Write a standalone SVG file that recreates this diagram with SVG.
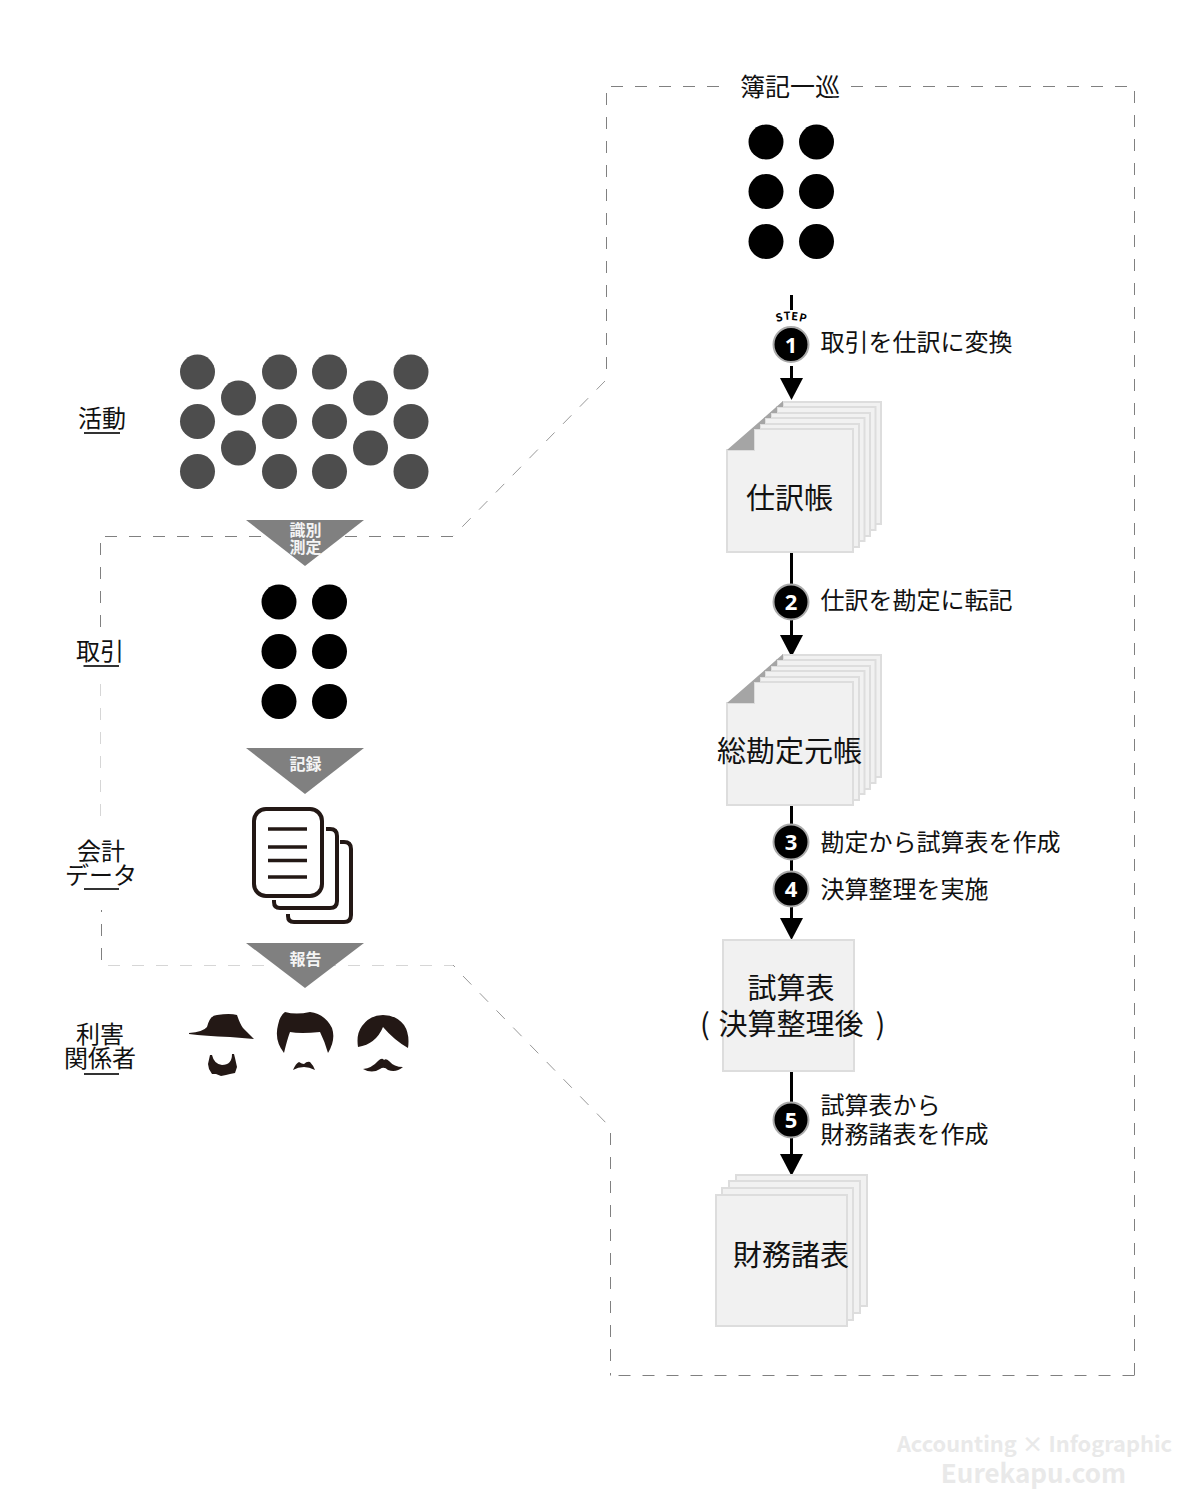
<svg xmlns="http://www.w3.org/2000/svg" width="1200" height="1495" viewBox="0 0 1200 1495">
<style>
text{font-family:"Noto Sans CJK JP","Noto Sans",sans-serif;fill:#111}
.l{font-size:24px;text-anchor:middle}
.s{font-size:24px}
.d{font-size:29px;text-anchor:middle}
.t{font-size:16px;font-weight:700;fill:#f4f4f4;text-anchor:middle}
.n{font-size:22px;font-weight:700;fill:#fff;text-anchor:middle;font-family:"Open Sans","Noto Sans",sans-serif}
.w{font-family:"Noto Sans CJK JP","Noto Sans",sans-serif;font-weight:700;fill:#e9e9e9;text-anchor:end}
.u{stroke:#333;stroke-width:2;fill:none}
.a{fill:#4d4d4d}
.p{fill:#f1f1f1;stroke:#ddd;stroke-width:2}
.f{fill:#a5a5a5}
.c{stroke:#000;stroke-width:3;fill:none}
.b{fill:#000;stroke:#ababab;stroke-width:2}
.tr{fill:#808080}
.ds{fill:none;stroke:#808080;stroke-width:1;stroke-dasharray:12 12}
.dm{fill:none;stroke:#999;stroke-width:1;stroke-dasharray:12 12}
.dl{fill:none;stroke:#d6d6d6;stroke-width:1;stroke-dasharray:12 12}
</style>
<defs>
<g id="six" fill="#000"><circle cx="0" cy="0" r="17.500"/><circle cx="50.500" cy="0" r="17.500"/><circle cx="0" cy="49.500" r="17.500"/><circle cx="50.500" cy="49.500" r="17.500"/><circle cx="0" cy="99.500" r="17.500"/><circle cx="50.500" cy="99.500" r="17.500"/></g>
<path id="ar" d="M-11.500 0H11.500L0 22Z" fill="#000"/>
</defs>

<g id="boundary">
<path class="ds" d="M719 86.500H610"/>
<path class="ds" d="M606.500 93V370"/>
<path class="dm" d="M605 381L453.700 535.500"/>
<path class="ds" d="M453 536.500H105"/>
<path class="ds" d="M100.500 543V627"/>
<path class="dl" d="M100.500 684V816"/>
<path class="ds" d="M101.500 910V912M101.500 924V960"/>
<path class="dl" d="M108 965.500H453"/>
<path class="dm" d="M453 965L455 967M463 976L610 1127"/>
<path class="ds" d="M610.500 1133V1375.500"/>
<path class="ds" d="M1134.500 1375.500H610.500"/>
<path class="ds" d="M1134.500 91V1375"/>
<path class="ds" d="M851 86.500H1127"/>
</g>

<g id="connectors">
<path class="c" d="M791.500 295V310M791.500 366V380M791.500 552V586M791.500 618V636M791.500 806V826M791.500 858V874M791.500 906V920M791.500 1071V1104M791.500 1136V1156"/>
<use href="#ar" x="791.500" y="378"/>
<use href="#ar" x="791.500" y="635"/>
<use href="#ar" x="791.500" y="918"/>
<use href="#ar" x="791.500" y="1154"/>
</g>

<g id="title"><text x="740" y="96" font-size="25">簿記一巡</text><use href="#six" x="766" y="142"/></g>

<g id="activity-label"><text class="l" x="102" y="427">活動</text><path class="u" d="M84 433H120"/></g>
<g id="activity" class="a">
<circle cx="197.500" cy="372" r="17.500"/><circle cx="197.500" cy="421.500" r="17.500"/><circle cx="197.500" cy="471.500" r="17.500"/>
<circle cx="238.500" cy="398" r="17.500"/><circle cx="238.500" cy="448" r="17.500"/>
<circle cx="279.500" cy="372" r="17.500"/><circle cx="279.500" cy="421.500" r="17.500"/><circle cx="279.500" cy="471.500" r="17.500"/>
<circle cx="329.500" cy="372" r="17.500"/><circle cx="329.500" cy="421.500" r="17.500"/><circle cx="329.500" cy="471.500" r="17.500"/>
<circle cx="370.500" cy="398" r="17.500"/><circle cx="370.500" cy="448" r="17.500"/>
<circle cx="411" cy="372" r="17.500"/><circle cx="411" cy="421.500" r="17.500"/><circle cx="411" cy="471.500" r="17.500"/>
</g>

<g id="measure"><path class="tr" d="M246 520H364L305 566Z"/><text class="t"><tspan x="305.500" y="535.500">識別</tspan><tspan x="305.500" y="553">測定</tspan></text></g>
<g id="transaction-label"><text class="l" x="100" y="660">取引</text><path class="u" d="M83.500 666H119"/></g>
<use id="transactions" href="#six" x="279" y="602"/>
<g id="record"><path class="tr" d="M246 748H364L305 794Z"/><text class="t" x="305.500" y="770">記録</text></g>

<g id="data-label"><text class="l"><tspan x="101" y="860">会計</tspan><tspan x="101" y="884">データ</tspan></text><path class="u" d="M84 889H119"/></g>
<g id="documents" fill="none" stroke="#231815" stroke-width="4">
<path d="M326 829H330Q337 829 337 836V901Q337 908 330 908H280Q274 908 274 902V900"/>
<path d="M340 842H344Q351 842 351 849V915Q351 922 344 922H294Q288 922 288 916V914"/>
<rect x="254" y="809" width="68" height="87" rx="12" fill="#fff"/>
<path stroke-width="3.500" d="M268 829H307M268 847H307M268 860.500H307M268 877H307"/>
</g>

<g id="report"><path class="tr" d="M246 943H364L305 988Z"/><text class="t" x="305.500" y="965">報告</text></g>
<g id="stakeholder-label"><text class="l"><tspan x="100" y="1043">利害</tspan><tspan x="100" y="1067">関係者</tspan></text><path class="u" d="M84 1074H119"/></g>
<g id="stakeholders" fill="#231815">
<path d="M189 1033Q203 1032 207 1027Q210 1015 217 1015Q230 1013 237 1015Q240 1024 243 1028L254 1039L230 1037Q205 1036 189 1034Z"/>
<path d="M210 1055L212 1055Q214 1064 222 1065Q232 1065 232 1054L234 1054L235 1058L237 1067L235 1073L230 1074L226 1075L221 1076L216 1074L212 1074L209 1069L208 1064Z"/>
<path d="M285 1012Q296 1015 310 1012Q325 1014 332 1028Q336 1040 328 1053Q325 1042 320 1032Q300 1034 290 1032Q287 1040 284 1053Q274 1040 278 1025Q280 1015 285 1012Z"/>
<path d="M293 1070Q296 1063 299 1062Q302 1064 304 1064Q307 1061 310 1062Q313 1065 315 1070Q309 1067 304 1067Q298 1067 293 1070Z"/>
<path d="M358 1047Q356 1034 362 1026Q370 1015 383 1015Q396 1015 404 1025Q410 1034 408 1048Q394 1040 383 1027Q376 1044 358 1047Z"/>
<path d="M363 1069Q372 1068 378 1061Q382 1057 384 1060Q386 1058 389 1061Q394 1067 403 1067Q396 1073 388 1070Q384 1066 380 1069Q372 1074 363 1069Z"/>
</g>

<g id="step1"><text y="322 320 320 321" x="776.500 784 791 798.500" font-size="11" font-weight="700" style="fill:#000" rotate="-12 -4 4 12">STEP</text><circle class="b" cx="791" cy="344.500" r="17.500"/><text class="n" x="791" y="352.500">1</text><text class="s" x="820.500" y="350.500">取引を仕訳に変換</text></g>

<g id="journal">
<path class="p" d="M783 402H881V524H783Z"/><path class="p" d="M777 407H875.500V530H777Z"/><path class="p" d="M771 413H870V536H771Z"/><path class="p" d="M765 418H864.500V541H765Z"/><path class="p" d="M760 424H859V547H760Z"/>
<path class="p" d="M754 429H853V552H727V450H754Z"/>
<path class="f" d="M783 401L727 450H754V429H760V424H765V418H771V413H777V407H783Z"/>
<text class="d" x="789.500" y="508.500">仕訳帳</text>
</g>

<g id="step2"><circle class="b" cx="791" cy="602" r="17.500"/><text class="n" x="791" y="610">2</text><text class="s" x="820.500" y="608.500">仕訳を勘定に転記</text></g>

<g id="ledger">
<path class="p" d="M783 655H881V777H783Z"/><path class="p" d="M777 660H875.500V783H777Z"/><path class="p" d="M771 666H870V789H771Z"/><path class="p" d="M765 671H864.500V794H765Z"/><path class="p" d="M760 677H859V800H760Z"/>
<path class="p" d="M754 682H853V805H727V703H754Z"/>
<path class="f" d="M783 654L727 703H754V682H760V677H765V671H771V666H777V660H783Z"/>
<text class="d" x="789.500" y="761.500">総勘定元帳</text>
</g>

<g id="step3"><circle class="b" cx="791" cy="842" r="17.500"/><text class="n" x="791" y="850">3</text><text class="s" x="820.500" y="850.500">勘定から試算表を作成</text></g>
<g id="step4"><circle class="b" cx="791" cy="889" r="17.500"/><text class="n" x="791" y="897">4</text><text class="s" x="820.500" y="897.500">決算整理を実施</text></g>

<g id="trial-balance"><rect class="p" x="723" y="940" width="131" height="131"/><text class="d" x="791" y="998.500">試算表</text><text font-size="29" y="1034.500" x="700">( <tspan x="718.500">決算整理後</tspan><tspan x="869"> )</tspan></text></g>

<g id="step5"><circle class="b" cx="791" cy="1120" r="17.500"/><text class="n" x="791" y="1128">5</text><text class="s" x="820.500" y="1113.500">試算表から</text><text class="s" x="820.500" y="1142.500">財務諸表を作成</text></g>

<g id="statements">
<rect class="p" x="736" y="1175" width="131" height="131"/><rect class="p" x="729" y="1181" width="131" height="132"/><rect class="p" x="722" y="1188" width="131" height="132"/>
<rect class="p" x="716" y="1195" width="131" height="131"/>
<text class="d" x="791" y="1265.500">財務諸表</text>
</g>

<g id="watermark"><text class="w" x="1172" y="1452" font-size="21.800">Accounting × Infographic</text><text class="w" x="1126" y="1483" font-size="26">Eurekapu.com</text></g>
</svg>
